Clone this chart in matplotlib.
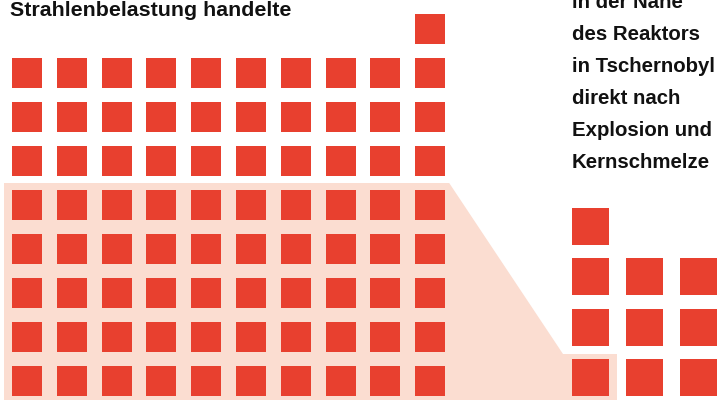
import matplotlib.pyplot as plt
from matplotlib.patches import Rectangle, Polygon

# number of squares stacked in each column
left_counts = [8, 8, 8, 8, 8, 8, 8, 8, 8, 9]
right_counts = [4, 3, 3]
# rows (from the bottom) that are highlighted
left_shaded_rows = 5
right_shaded_rows = 1

title_left = "Strahlenbelastung handelte"
text_right = ["in der Nähe", "des Reaktors", "in Tschernobyl",
              "direkt nach", "Explosion und", "Kernschmelze"]

red = "#e8402f"
shade = "#fbddd1"

fig = plt.figure(figsize=(7.2, 4.05), dpi=100)
ax = fig.add_axes([0, 0, 1, 1])
ax.set_xlim(0, 720)
ax.set_ylim(405, 0)
ax.axis("off")

# layout in pixels
bottom = 396
L_x0, L_pitch_x, L_pitch_y, L_size = 12, 44.8, 44, 30
R_x0, R_pitch_x, R_pitch_y, R_size = 572, 54, 50.5, 37

# shaded band behind the bottom rows, joined by a slanted edge
l_top = bottom - L_size - (left_shaded_rows - 1) * L_pitch_y - 7
l_right = L_x0 + (len(left_counts) - 1) * L_pitch_x + L_size + 4
r_top = bottom - R_size - (right_shaded_rows - 1) * R_pitch_y - 5
r_right = R_x0 + R_size + 8
band = Polygon([(4, l_top), (l_right, l_top), (R_x0 - 9, r_top),
                (r_right, r_top), (r_right, bottom + 4), (4, bottom + 4)],
               closed=True, facecolor=shade, edgecolor="none", zorder=1)
ax.add_patch(band)

for i, n in enumerate(left_counts):
    for j in range(n):
        x = L_x0 + i * L_pitch_x
        y = bottom - L_size - j * L_pitch_y
        ax.add_patch(Rectangle((x, y), L_size, L_size, facecolor=red,
                               edgecolor="none", zorder=2))

for i, n in enumerate(right_counts):
    for j in range(n):
        x = R_x0 + i * R_pitch_x
        y = bottom - R_size - j * R_pitch_y
        ax.add_patch(Rectangle((x, y), R_size, R_size, facecolor=red,
                               edgecolor="none", zorder=2))

font = dict(family="Liberation Sans", weight="bold",
            color="#111111", va="baseline", ha="left")
ax.text(10, 16, title_left, fontsize=15.4, **font)
for k, line in enumerate(text_right):
    ax.text(572, 8 + 32 * k, line, fontsize=14.7, **font)

fig.savefig("out.png", dpi=100)
